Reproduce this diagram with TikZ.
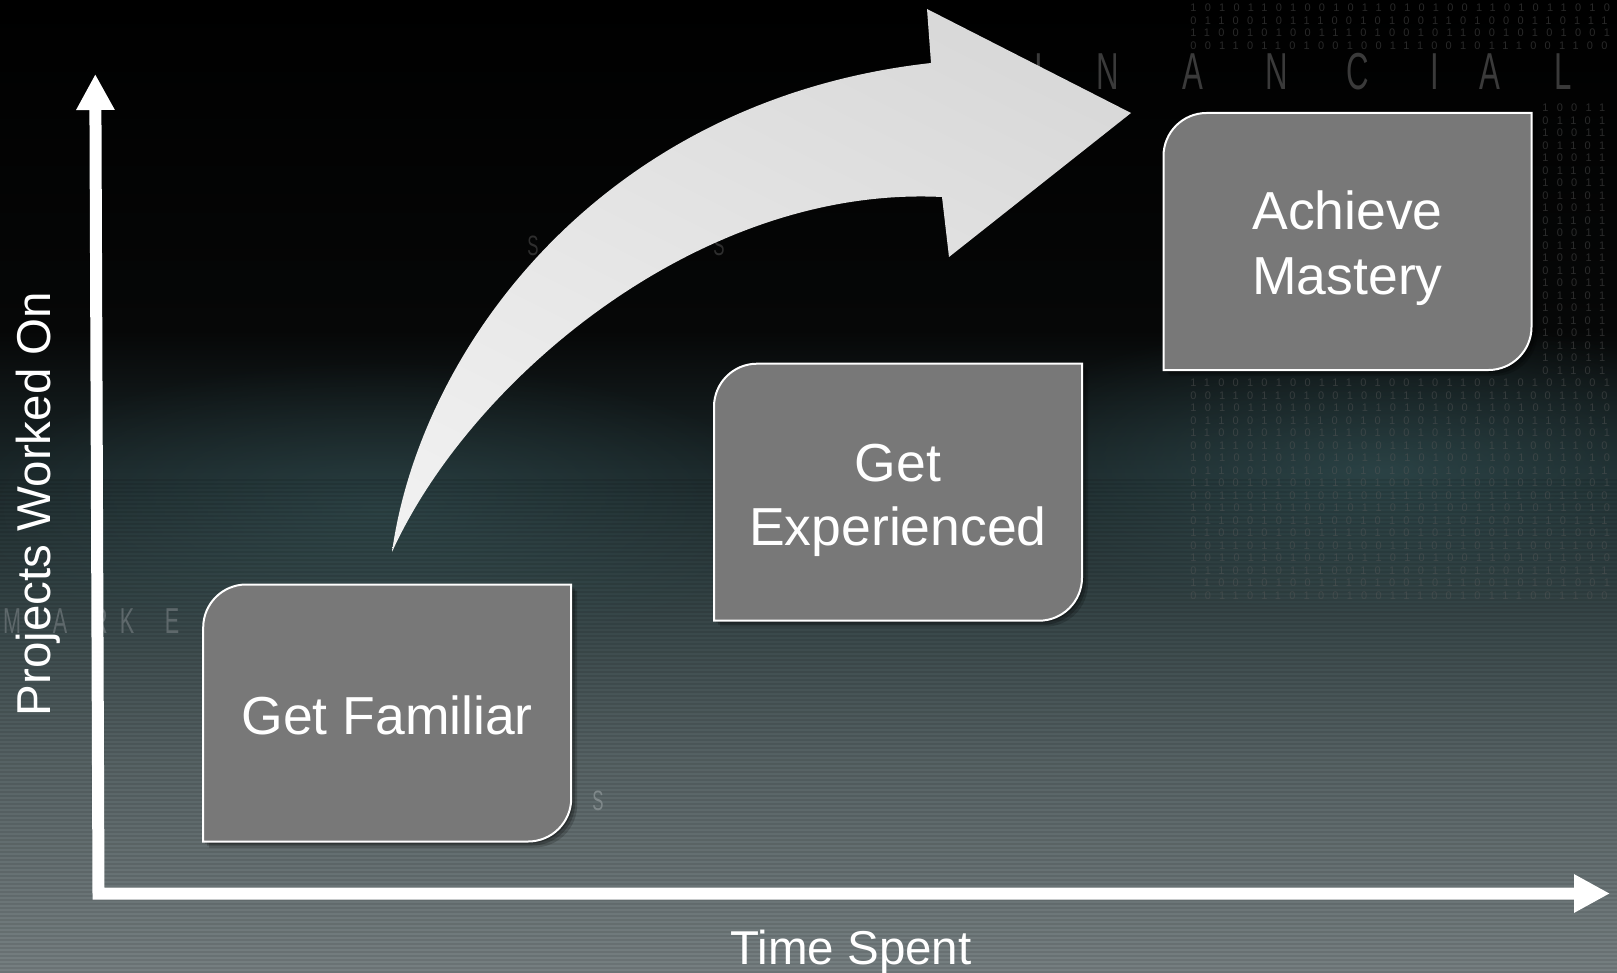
\documentclass[tikz,border=0pt]{standalone}
\usepackage{fontspec}
\setmainfont{Liberation Sans}
\usetikzlibrary{arrows.meta,calc,shadings,fadings}
\definecolor{boxgray}{HTML}{787878}
\definecolor{bgA}{HTML}{000000}
\definecolor{bgB}{HTML}{060707}
\definecolor{bgC}{HTML}{1A2628}
\definecolor{bgD}{HTML}{334244}
\definecolor{bgE}{HTML}{566264}
\definecolor{bgF}{HTML}{767F81}
\definecolor{tealglow}{HTML}{3F6468}
\definecolor{bgtext}{HTML}{3A3A3A}
\definecolor{bgtextB}{HTML}{5E686B}
\definecolor{bgtextC}{HTML}{2E2E2E}
\definecolor{bgtextD}{HTML}{7F888A}
\definecolor{digitgray}{HTML}{5A5A5A}
\definecolor{arrA}{HTML}{F2F2F2}
\definecolor{arrB}{HTML}{D5D5D5}
\definecolor{arrC}{HTML}{E2E2E2}
\definecolor{arrD}{HTML}{E8E8E8}
\tikzfading[name=softglow,inner color=transparent!0,outer color=transparent!100]
\def\digA{101011010010110101001101011010}
\def\digB{011001011100101001101000110111}
\def\digC{110010100111010010110010101001}
\def\digD{001101101001001110010111001100}
\def\digS{01101}
\def\digT{10011}
\def\cutbox#1{(#1.south west) -- ($(#1.north west)+(0,43)$) .. controls ($(#1.north west)+(0,19.3)$) and ($(#1.north west)+(19.3,0)$) .. ($(#1.north west)+(43,0)$) -- (#1.north east) -- ($(#1.south east)+(0,-43)$) .. controls ($(#1.south east)+(0,-19.3)$) and ($(#1.south east)+(-19.3,0)$) .. ($(#1.south east)+(-43,0)$) -- cycle}
\begin{document}
\begin{tikzpicture}[x=0.5pt,y=-0.5pt,
  boxnode/.style={minimum width=184pt,minimum height=128.5pt,inner sep=0pt,outer sep=0pt},
  boxframe/.style={fill=boxgray,draw=white,line width=1pt},
  boxtext/.style={text=white,font=\fontsize{26.75pt}{32pt}\selectfont,inner sep=0pt,anchor=base},
  axlabel/.style={text=white,font=\fontsize{23.75pt}{28pt}\selectfont,inner sep=0pt,anchor=base},
  axisline/.style={draw=white,line width=6pt,line join=miter,arrows={Triangle[length=18pt,width=18pt]-Triangle[length=18pt,width=18pt]}},
  bgletter/.style={font=\fontsize{26pt}{30pt}\selectfont,inner sep=0pt,anchor=base,xscale=0.6},
  digit/.style={text=digitgray,text opacity=0.45,font=\fontsize{5.5pt}{6pt}\selectfont\addfontfeature{LetterSpace=75},inner sep=0pt,anchor=west}
]
\useasboundingbox (0,0) rectangle (1617,973);
% background
\shade[top color=bgA,bottom color=bgB] (0,0) rectangle (1617,331);
\shade[top color=bgB,bottom color=bgC] (0,330) rectangle (1617,471);
\shade[top color=bgC,bottom color=bgD] (0,470) rectangle (1617,601);
\shade[top color=bgD,bottom color=bgE] (0,600) rectangle (1617,761);
\shade[top color=bgE,bottom color=bgF] (0,760) rectangle (1617,973);
\fill[tealglow,opacity=0.45,path fading=softglow] (1380,470) ellipse [x radius=420,y radius=150];
\fill[tealglow,opacity=0.35,path fading=softglow] (380,510) ellipse [x radius=420,y radius=150];
\foreach \yy in {480,484,...,972} \draw[black,opacity=0.09,line width=0.7pt] (0,\yy) -- (1617,\yy);
% binary digit texture
\foreach \r in {0,...,47} {
  \pgfmathsetmacro{\yy}{8+\r*12.5}
  \pgfmathtruncatemacro{\k}{mod(\r,4)}
  \pgfmathtruncatemacro{\zone}{(\yy>46 && \yy<100) ? 1 : ((\yy>104 && \yy<380) ? 2 : 0)}
  \ifnum\zone=0
    \node[digit] (dig\r) at (1190,\yy) {\ifcase\k\relax\digA\or\digB\or\digC\else\digD\fi};
  \fi
  \ifnum\zone=2
    \node[digit] (dig\r) at (1542,\yy) {\ifodd\k\relax\digS\else\digT\fi};
  \fi
}
% faint background letters
\foreach \lx/\lt [count=\i] in {1039/I,1108/N,1193/A,1277/N,1358/C,1435/I,1490/A,1563/L}
  \node[bgletter,text=bgtext] (fin\i) at (\lx,90) {\lt};
\foreach \lx/\lt [count=\i] in {12/M,60/A,100/R,127/K,172/E}
  \node[bgletter,text=bgtextB,font=\fontsize{18pt}{22pt}\selectfont] (mkt\i) at (\lx,633) {\lt};
\node[bgletter,text=bgtextC,font=\fontsize{14pt}{16pt}\selectfont] (sA) at (533,256) {S};
\node[bgletter,text=bgtextC,font=\fontsize{14pt}{16pt}\selectfont] (sB) at (719,256) {S};
\node[bgletter,text=bgtextD,font=\fontsize{14pt}{16pt}\selectfont] (sC) at (598,810) {S};
% boxes
\node[boxnode] (b1) at (387.2,713) {};
\node[boxnode] (b2) at (898,492.2) {};
\node[boxnode] (b3) at (1347.5,241.5) {};
\foreach \b in {b1,b2,b3} {
  \fill[black,opacity=0.18,transform canvas={shift={(3pt,-3pt)}}] \cutbox{\b};
  \fill[black,opacity=0.22,transform canvas={shift={(2pt,-2pt)}}] \cutbox{\b};
  \fill[black,opacity=0.25,transform canvas={shift={(1pt,-1pt)}}] \cutbox{\b};
  \path[boxframe] \cutbox{\b};
}
\node[boxtext] (t1) at (387.2,734) {Get Familiar};
\node[boxtext] (t2a) at (898,481) {Get};
\node[boxtext] (t2b) at (898,545) {Experienced};
\node[boxtext] (t3a) at (1347.5,230) {Achieve};
\node[boxtext] (t3b) at (1347.5,294) {Mastery};
% curved arrow
\coordinate (tail) at (392,552);
\coordinate (outerjoin) at (931,63);
\coordinate (headtop) at (927,9);
\coordinate (headtip) at (1131,113);
\coordinate (headbot) at (949,257);
\coordinate (innerjoin) at (942,197);
\shade[lower left=arrA,upper right=arrB,upper left=arrC,lower right=arrD]
  (tail) .. controls (420,350) and (600,100) .. (outerjoin) -- (headtop) -- (headtip) -- (headbot) -- (innerjoin)
  .. controls (700,185) and (470,380) .. (tail) -- cycle;
% axes
\coordinate (ytop) at (95.3,74);
\coordinate (corner) at (98.5,893.5);
\coordinate (xend) at (1610,893.5);
\draw[axisline] (ytop) -- (corner) -- (xend);
\node[axlabel,rotate=90] (ylab) at (50.5,504) {Projects Worked On};
\node[axlabel] (xlab) at (851,964) {Time Spent};
\end{tikzpicture}
\end{document}
